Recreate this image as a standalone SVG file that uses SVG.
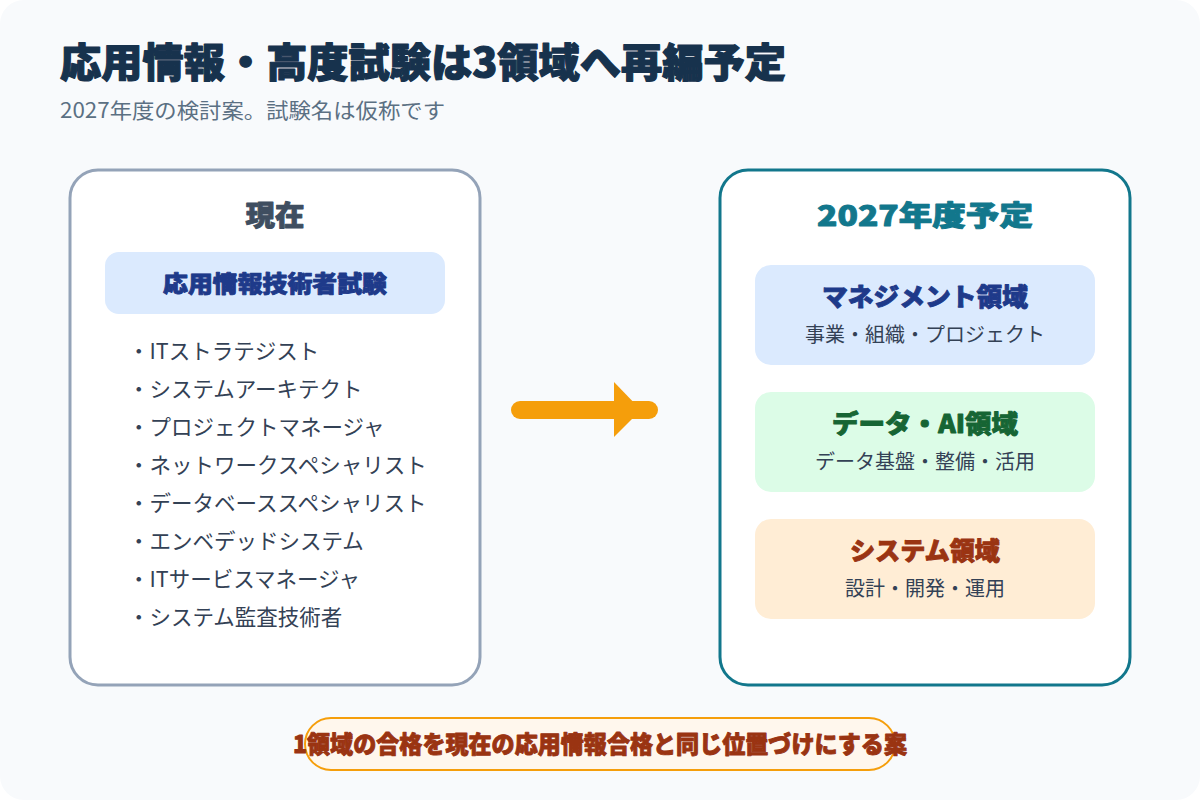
<svg xmlns="http://www.w3.org/2000/svg" width="1200" height="800" viewBox="0 0 1200 800">
<style>
text{font-family:"Noto Sans CJK JP","Noto Sans",sans-serif}
.hv{font-weight:900;stroke-width:0.9;stroke-linejoin:round}
.title{font-size:40px;fill:#17324d;stroke:#17324d;stroke-width:1.2}
.sub{font-size:21px;fill:#5b7083}
.panel{fill:#ffffff;stroke-width:3}
.head{font-size:28px;text-anchor:middle}
.item{font-size:21.5px;fill:#334155}
.dt{font-size:25px;text-anchor:middle}
.ds{font-size:20px;fill:#334155;text-anchor:middle}
</style>
<rect x="0" y="0" width="1200" height="800" fill="#ffffff"/>
<rect x="0" y="0" width="1200" height="800" rx="24" fill="#f8fafc"/>
<g id="header">
<text class="title hv" x="60" y="77" textLength="726" lengthAdjust="spacingAndGlyphs">応用情報・高度試験は3領域へ再編予定</text>
<text class="sub" x="60" y="118" textLength="385" lengthAdjust="spacingAndGlyphs">2027年度の検討案。試験名は仮称です</text>
</g>
<g id="current">
<rect class="panel" x="70" y="170" width="410" height="515" rx="28" stroke="#94a3b8"/>
<text class="head hv" x="275" y="226" fill="#3f4e60" stroke="#3f4e60" textLength="59" lengthAdjust="spacingAndGlyphs">現在</text>
<rect x="105" y="252" width="340" height="62" rx="14" fill="#dbeafe"/>
<text class="hv" x="275" y="292" text-anchor="middle" font-size="23" fill="#1e3a8a" stroke="#1e3a8a" textLength="224" lengthAdjust="spacingAndGlyphs">応用情報技術者試験</text>
<text class="item" x="128" y="359">・ITストラテジスト</text>
<text class="item" x="128" y="397">・システムアーキテクト</text>
<text class="item" x="128" y="435">・プロジェクトマネージャ</text>
<text class="item" x="128" y="473">・ネットワークスペシャリスト</text>
<text class="item" x="128" y="511">・データベーススペシャリスト</text>
<text class="item" x="128" y="549">・エンベデッドシステム</text>
<text class="item" x="128" y="587">・ITサービスマネージャ</text>
<text class="item" x="128" y="625">・システム監査技術者</text>
</g>
<g id="connectors">
<line x1="520" y1="410" x2="649" y2="410" stroke="#f59e0b" stroke-width="18" stroke-linecap="round"/>
<polygon points="614,382 614,437 641,410" fill="#f59e0b"/>
</g>
<g id="planned">
<rect class="panel" x="720" y="170" width="410" height="515" rx="28" stroke="#12778c"/>
<text class="head hv" x="925" y="226" fill="#12778c" stroke="#12778c" textLength="216" lengthAdjust="spacingAndGlyphs">2027年度予定</text>
</g>
<g id="management">
<rect x="755" y="265" width="340" height="100" rx="16" fill="#dbeafe"/>
<text class="dt hv" x="925" y="306" fill="#1e3a8a" stroke="#1e3a8a" textLength="206" lengthAdjust="spacingAndGlyphs">マネジメント領域</text>
<text class="ds" x="925" y="342">事業・組織・プロジェクト</text>
</g>
<g id="data-ai">
<rect x="755" y="392" width="340" height="100" rx="16" fill="#dcfce7"/>
<text class="dt hv" x="925" y="433" fill="#166534" stroke="#166534" textLength="186" lengthAdjust="spacingAndGlyphs">データ・AI領域</text>
<text class="ds" x="925" y="469">データ基盤・整備・活用</text>
</g>
<g id="system">
<rect x="755" y="519" width="340" height="100" rx="16" fill="#ffedd5"/>
<text class="dt hv" x="925" y="560" fill="#9a3412" stroke="#9a3412" textLength="150" lengthAdjust="spacingAndGlyphs">システム領域</text>
<text class="ds" x="925" y="596">設計・開発・運用</text>
</g>
<g id="note">
<rect x="305" y="718" width="590" height="52" rx="26" fill="#fff7ed" stroke="#f59e0b" stroke-width="2"/>
<text class="hv" x="600" y="753" text-anchor="middle" font-size="24" fill="#9a3412" stroke="#9a3412" textLength="614" lengthAdjust="spacingAndGlyphs">1領域の合格を現在の応用情報合格と同じ位置づけにする案</text>
</g>
</svg>
